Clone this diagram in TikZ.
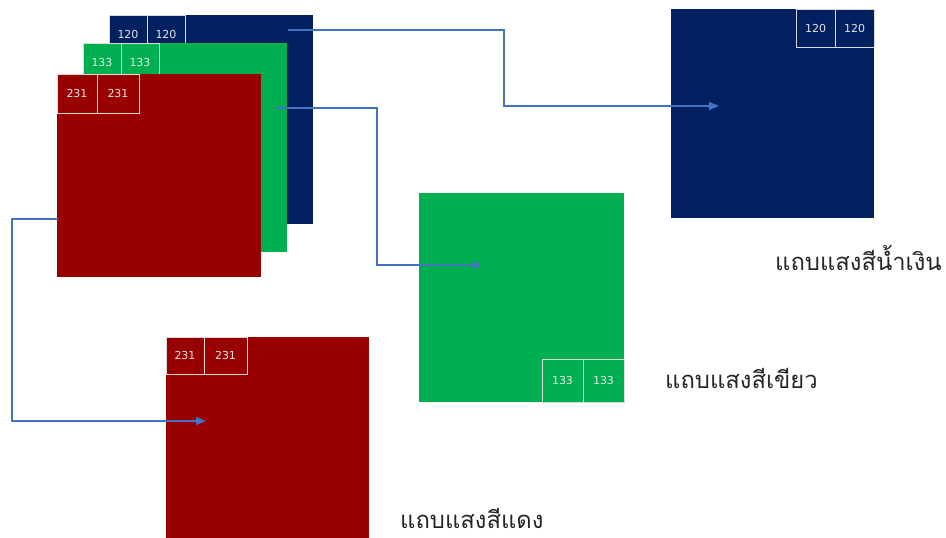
\documentclass[tikz,border=0pt]{standalone}
\usepackage{fontspec}
\setmainfont{DejaVu Sans}
\newfontfamily\thaifont[Script=Thai]{Loma}
\usetikzlibrary{arrows.meta}
\definecolor{navyband}{HTML}{002060}
\definecolor{greenband}{HTML}{00B050}
\definecolor{redband}{HTML}{990000}
\definecolor{connblue}{HTML}{4472C4}
\definecolor{celltext}{HTML}{E6E6E6}
\definecolor{cellline}{HTML}{D9D9D9}
\definecolor{labelgray}{HTML}{262626}
\tikzset{
  cellbox/.style={draw=cellline, line width=0.7pt, inner sep=0pt, outer sep=0pt,
    text=celltext, font=\fontsize{11}{13}\selectfont},
  conn/.style={draw=connblue, line width=1.3pt},
  tri/.style={-{Triangle[length=10pt,width=8pt]}},
  dot/.style={-{Circle[length=7pt]}},
  bandlabel/.style={inner sep=0pt, anchor=base west, text=labelgray,
    font=\thaifont\fontsize{23.8}{28}\selectfont}
}
\begin{document}
\begin{tikzpicture}[x=1pt,y=-1pt]
\useasboundingbox (0,0) rectangle (946,538);
% ---- stacked bands ----
\fill[navyband] (109,15) rectangle (313,224);
\draw[cellbox] (109,15) rectangle (147,53);
\draw[cellbox] (147,15) rectangle (185,53);
\node[cellbox, draw=none] (bc1) at (128,34) {120};
\node[cellbox, draw=none] (bc2) at (166,34) {120};
\fill[greenband] (83,43) rectangle (287,252);
\draw[cellbox] (83,43) rectangle (121,81);
\draw[cellbox] (121,43) rectangle (159,81);
\node[cellbox, draw=none] (gc1) at (102,62) {133};
\node[cellbox, draw=none] (gc2) at (140,62) {133};
\fill[redband] (57,74) rectangle (261,277);
\draw[cellbox] (57,74) rectangle (97,113);
\draw[cellbox] (97,74) rectangle (139,113);
\node[cellbox, draw=none] (rc1) at (77,93) {231};
\node[cellbox, draw=none] (rc2) at (118,93) {231};
% ---- separated bands ----
\fill[navyband] (671,9) rectangle (874,218);
\draw[cellbox] (796,9) rectangle (835,47);
\draw[cellbox] (835,9) rectangle (874,47);
\node[cellbox, draw=none] (bb1) at (815.5,28) {120};
\node[cellbox, draw=none] (bb2) at (854.5,28) {120};
\fill[greenband] (419,193) rectangle (624,402);
\draw[cellbox] (542,359) rectangle (583,402);
\draw[cellbox] (583,359) rectangle (624,402);
\node[cellbox, draw=none] (gb1) at (562.5,380.5) {133};
\node[cellbox, draw=none] (gb2) at (603.5,380.5) {133};
\fill[redband] (166,337) rectangle (369,538);
\draw[cellbox] (166,337) rectangle (204,374);
\draw[cellbox] (204,337) rectangle (247,374);
\node[cellbox, draw=none] (rb1) at (185,355.5) {231};
\node[cellbox, draw=none] (rb2) at (225.5,355.5) {231};
% ---- labels ----
\node[bandlabel] (lblue) at (775,270) {แถบแสงสีน้ำเงิน};
\node[bandlabel] (lgreen) at (665,388) {แถบแสงสีเขียว};
\node[bandlabel] (lred) at (400,528) {แถบแสงสีแดง};
% ---- connectors ----
\coordinate (bs) at (288,30);
\coordinate (bv) at (504,68);
\coordinate (bt) at (719,106);
\draw[conn, tri] (bs) -| (bv) |- (bt);
\coordinate (gs) at (275,108);
\coordinate (gv) at (377,186);
\coordinate (gt) at (479,265);
\draw[conn, dot] (gs) -| (gv) |- (gt);
\coordinate (rs) at (58,219);
\coordinate (rv) at (12,320);
\coordinate (rt) at (206,421);
\draw[conn, tri] (rs) -| (rv) |- (rt);
\end{tikzpicture}
\end{document}
